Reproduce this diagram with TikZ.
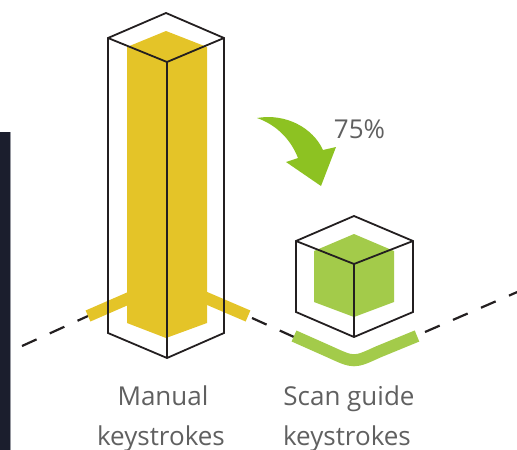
\documentclass[tikz,border=0pt]{standalone}
\usepackage{fontspec}
\setmainfont{Open Sans}
\usepackage{xcolor}
\usepackage{tikz}
\definecolor{baryellow}{RGB}{228,196,40}
\definecolor{cubegreen}{RGB}{163,203,74}
\definecolor{arrowgreen}{RGB}{141,194,34}
\definecolor{outline}{RGB}{35,31,32}
\definecolor{labelgray}{RGB}{96,96,96}
\definecolor{panelnavy}{RGB}{27,30,45}
\definecolor{paneledge}{RGB}{150,152,160}

\tikzset{
    boxline/.style={draw=outline,line width=1.8pt,line join=miter},
    floorline/.style={draw=outline,line width=2.2pt,dash pattern=on 16pt off 14.5pt},
    leg/.style={line width=12pt},
    lbl/.style={text=labelgray,font=\fontsize{26}{40}\selectfont,anchor=base,inner sep=0pt}
}

\begin{document}
\begin{tikzpicture}[x=1pt,y=-1pt]
    \useasboundingbox (0,0) rectangle (517,450);

    % Panel at the left edge
    \fill[panelnavy] (0,132) rectangle (10,450);
    \fill[paneledge] (10,132) rectangle (11.2,450);

    % Floor
    \coordinate (floorA) at (22,346);
    \coordinate (floorB) at (88,316);
    \coordinate (floorC) at (252,318);
    \coordinate (floorD) at (294,337);
    \coordinate (floorE) at (425,332);
    \coordinate (floorF) at (530,286.5);
    \draw[floorline] (floorA) -- (floorB);
    \draw[floorline] (floorC) -- (floorD);
    \draw[floorline] (floorE) -- (floorF);

    % Manual keystrokes bar
    \draw[baryellow,leg] (88,316) -- (150,289);
    \draw[baryellow,leg] (185,289) -- (248,316);
    \fill[baryellow] (166,31) -- (207,47) -- (207,323) -- (166,338) -- (127,323) -- (127,47) -- cycle;
    \draw[boxline] (166,13) -- (224,38) -- (224,333) -- (167,358) -- (108,333) -- (108,38) -- cycle;
    \draw[boxline] (108,38) -- (167,62) -- (224,38);
    \draw[boxline] (167,62) -- (167,358);

    % Scan guide cube
    \draw[cubegreen,leg] (294,336) -- (330,352) .. controls (354,363) .. (378,352) -- (417,336);
    \fill[cubegreen] (354,234) -- (394,251) -- (394,302) -- (354,317) -- (314,302) -- (314,251) -- cycle;
    \draw[boxline] (354,216) -- (413,241) -- (413,312) -- (354,337) -- (296,312) -- (296,241) -- cycle;
    \draw[boxline] (296,241) -- (354,264) -- (413,241);
    \draw[boxline] (354,264) -- (354,337);

    % Reduction arrow
    \fill[arrowgreen] (257,118) .. controls (286,113) and (313,128) .. (323,150)
        -- (336,147) -- (321,186) -- (286,162) -- (298,158)
        .. controls (291,140) and (277,125) .. (257,118) -- cycle;
    \node[lbl] (pct) at (359.5,138) {75\%};

    % Labels
    \node[lbl] (manual) at (163,405) {Manual};
    \node[lbl] (manualks) at (161,445) {keystrokes};
    \node[lbl] (scan) at (349,405) {Scan guide};
    \node[lbl] (scanks) at (347,445) {keystrokes};
\end{tikzpicture}
\end{document}
